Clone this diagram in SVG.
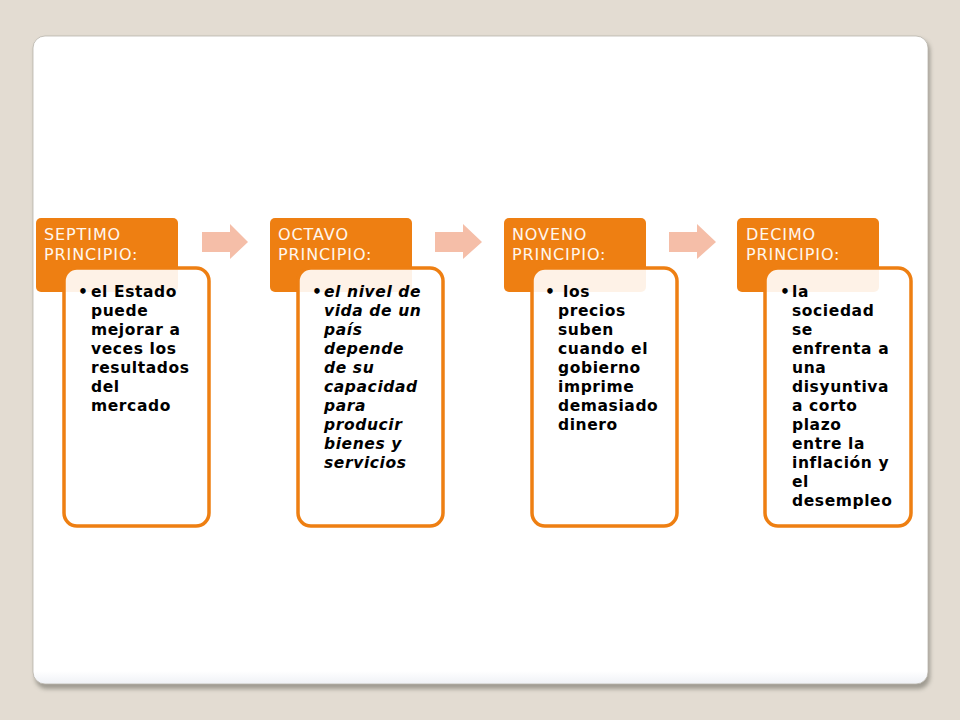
<svg xmlns="http://www.w3.org/2000/svg" width="960" height="720" viewBox="0 0 960 720">
<defs>
<filter id="sh" x="-5%" y="-5%" width="110%" height="110%"><feGaussianBlur stdDeviation="2"/></filter>
<linearGradient id="pg" x1="0" y1="0" x2="0" y2="1">
<stop offset="0" stop-color="#ffffff"/><stop offset="0.98" stop-color="#ffffff"/><stop offset="1" stop-color="#eff1f6"/>
</linearGradient>
</defs>
<style>
.hdr{fill:#EE7F12}
.card{fill:#ffffff;fill-opacity:0.9;stroke:#EE7F12;stroke-width:3.5}
.arr{fill:#F5BEA8}
.ht{font-family:"DejaVu Sans",Verdana,sans-serif;font-size:16px;fill:#FFF6EE;letter-spacing:0.9px}
.bt{font-family:"DejaVu Sans",Verdana,sans-serif;font-size:15.5px;font-weight:bold;fill:#000;letter-spacing:0.6px}
.it{font-style:italic}
</style>
<rect width="960" height="720" fill="#E3DCD2"/>
<rect x="35" y="39" width="895" height="650" rx="12" fill="#8e8b82" opacity="0.8" filter="url(#sh)"/>
<rect x="33" y="36" width="895" height="648" rx="12" fill="url(#pg)" stroke="#b9b5ac" stroke-width="0.8"/>

<g id="connectors">
<path class="arr" d="M202,232 H230 V224 L248,242 L230,259 V252 H202 Z"/>
<path class="arr" d="M435,232 H463 V224 L482,242 L463,259 V252 H435 Z"/>
<path class="arr" d="M669,232 H697 V224 L716,242 L697,259 V252 H669 Z"/>
</g>

<g id="node1">
<rect class="hdr" x="36" y="218" width="142" height="74" rx="5"/>
<text class="ht" x="44" y="240">SEPTIMO<tspan x="44" y="260">PRINCIPIO:</tspan></text>
<rect class="card" x="64" y="268" width="145" height="258" rx="13"/>
<text class="bt" x="78" y="297">•<tspan x="91">el Estado</tspan><tspan x="91" y="316">puede</tspan><tspan x="91" y="335">mejorar a</tspan><tspan x="91" y="354">veces los</tspan><tspan x="91" y="373">resultados</tspan><tspan x="91" y="392">del</tspan><tspan x="91" y="411">mercado</tspan></text>
</g>

<g id="node2">
<rect class="hdr" x="270" y="218" width="142" height="74" rx="5"/>
<text class="ht" x="278" y="240">OCTAVO<tspan x="278" y="260">PRINCIPIO:</tspan></text>
<rect class="card" x="298" y="268" width="145" height="258" rx="13"/>
<text class="bt" x="312" y="297">•<tspan class="it" x="324">el nivel de</tspan><tspan class="it" x="324" y="316">vida de un</tspan><tspan class="it" x="324" y="335">país</tspan><tspan class="it" x="324" y="354">depende</tspan><tspan class="it" x="324" y="373">de su</tspan><tspan class="it" x="324" y="392">capacidad</tspan><tspan class="it" x="324" y="411">para</tspan><tspan class="it" x="324" y="430">producir</tspan><tspan class="it" x="324" y="449">bienes y</tspan><tspan class="it" x="324" y="468">servicios</tspan></text>
</g>

<g id="node3">
<rect class="hdr" x="504" y="218" width="142" height="74" rx="5"/>
<text class="ht" x="512" y="240">NOVENO<tspan x="512" y="260">PRINCIPIO:</tspan></text>
<rect class="card" x="532" y="268" width="145" height="258" rx="13"/>
<text class="bt" x="545" y="297">•<tspan x="563">los</tspan><tspan x="558" y="316">precios</tspan><tspan x="558" y="335">suben</tspan><tspan x="558" y="354">cuando el</tspan><tspan x="558" y="373">gobierno</tspan><tspan x="558" y="392">imprime</tspan><tspan x="558" y="411">demasiado</tspan><tspan x="558" y="430">dinero</tspan></text>
</g>

<g id="node4">
<rect class="hdr" x="737" y="218" width="142" height="74" rx="5"/>
<text class="ht" x="746" y="240">DECIMO<tspan x="746" y="260">PRINCIPIO:</tspan></text>
<rect class="card" x="765" y="268" width="146" height="258" rx="13"/>
<text class="bt" x="780" y="297">•<tspan x="792">la</tspan><tspan x="792" y="316">sociedad</tspan><tspan x="792" y="335">se</tspan><tspan x="792" y="354">enfrenta a</tspan><tspan x="792" y="373">una</tspan><tspan x="792" y="392">disyuntiva</tspan><tspan x="792" y="411">a corto</tspan><tspan x="792" y="430">plazo</tspan><tspan x="792" y="449">entre la</tspan><tspan x="792" y="468">inflación y</tspan><tspan x="792" y="487">el</tspan><tspan x="792" y="506">desempleo</tspan></text>
</g>
</svg>
